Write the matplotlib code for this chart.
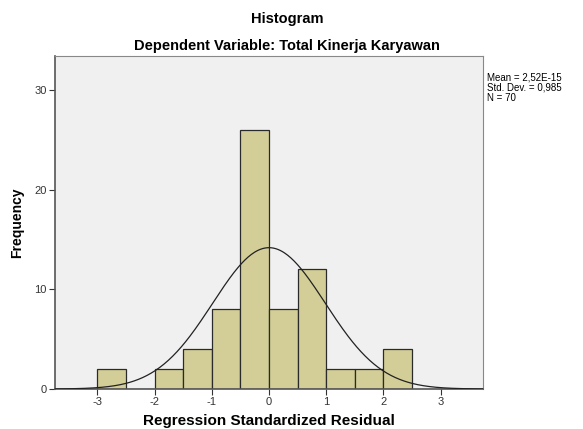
import numpy as np
import matplotlib.pyplot as plt

# histogram of regression standardized residuals (SPSS style)
bin_edges = [-3.0, -2.5, -2.0, -1.5, -1.0, -0.5, 0.0, 0.5, 1.0, 1.5, 2.0, 2.5]
counts = [2, 0, 2, 4, 8, 26, 8, 12, 2, 2, 4]
mean = 2.52e-15
sd = 0.985
n = 70
x_ticks = [-3, -2, -1, 0, 1, 2, 3]
y_ticks = [0, 10, 20, 30]

plt.rcParams['font.family'] = ['Liberation Sans', 'DejaVu Sans']

fig = plt.figure(figsize=(5.83, 4.29), dpi=100)
ax = fig.add_axes([0.0943, 0.0932, 0.7342, 0.7763])
ax.set_facecolor('#f0f0f0')

lefts = bin_edges[:-1]
widths = np.diff(bin_edges)
ax.bar(lefts, counts, width=widths, align='edge', color='#d3ce97',
       edgecolor='#2a2a2a', linewidth=0.9, zorder=2)

# fitted normal curve
bw = widths[0]
xs = np.linspace(-3.75, 3.75, 400)
ys = n * bw / (sd * np.sqrt(2 * np.pi)) * np.exp(-0.5 * ((xs - mean) / sd) ** 2)
ax.plot(xs, ys, color='#222222', linewidth=0.9, zorder=3)

ax.set_xlim(-3.74, 3.74)
ax.set_ylim(0, 33.4)
ax.set_xticks(x_ticks)
ax.set_xticklabels([str(t) for t in x_ticks])
ax.set_yticks(y_ticks)
ax.tick_params(axis='both', labelsize=8, colors='#333333', length=4, width=0.8, pad=2)
for s in ['top', 'right']:
    ax.spines[s].set_color('#888888')
    ax.spines[s].set_linewidth(0.8)
for s in ['left', 'bottom']:
    ax.spines[s].set_color('#555555')
    ax.spines[s].set_linewidth(1.2)

ax.set_xlabel('Regression Standardized Residual', fontsize=11, fontweight='bold', va='center')
ax.xaxis.set_label_coords(0.5, -0.096)
ax.set_ylabel('Frequency', fontsize=10, fontweight='bold', va='center')
ax.yaxis.set_label_coords(-0.088, 0.5)

fig.text(0.492, 0.956, 'Histogram', ha='center', va='center', fontsize=10.5, fontweight='bold')
fig.text(0.492, 0.893, 'Dependent Variable: Total Kinerja Karyawan', ha='center', va='center',
         fontsize=10.5, fontweight='bold')

fig.text(0.836, 0.795, 'Mean = 2,52E-15\nStd. Dev. = 0,985\nN = 70', ha='left', va='center',
         fontsize=7, linespacing=1.0)

fig.savefig('out.png', dpi=100)
